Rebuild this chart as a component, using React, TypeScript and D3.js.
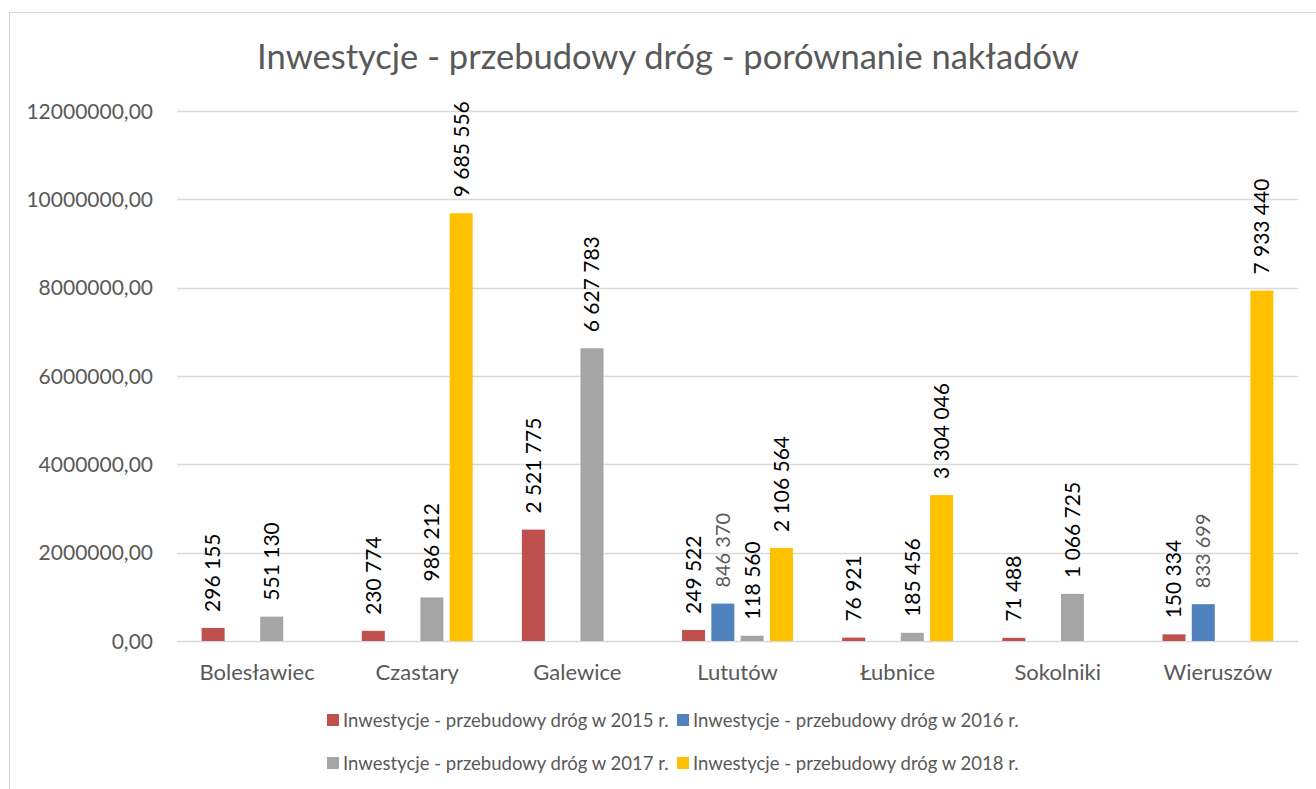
import { useRef, useEffect } from "react";
import * as d3 from "d3";

const categories = ["Bolesławiec", "Czastary", "Galewice", "Lututów", "Łubnice", "Sokolniki", "Wieruszów"];
const seriesNames = [
  "Inwestycje - przebudowy dróg w 2015 r.",
  "Inwestycje - przebudowy dróg w 2016 r.",
  "Inwestycje - przebudowy dróg w 2017 r.",
  "Inwestycje - przebudowy dróg w 2018 r.",
];
const colors = ["#C0504D", "#4F81BD", "#A5A5A5", "#FFC000"];
const v2015 = [296155, 230774, 2521775, 249522, 76921, 71488, 150334];
const v2016 = [null, null, null, 846370, null, null, 833699];
const v2017 = [551130, 986212, 6627783, 118560, 185456, 1066725, null];
const v2018 = [null, 9685556, null, 2106564, 3304046, null, 7933440];
const yTicks = [0, 2000000, 4000000, 6000000, 8000000, 10000000, 12000000];

const FONT = "Lato, 'Open Sans', sans-serif";

export default function App() {
  const svgRef = useRef<SVGSVGElement>(null);

  useEffect(() => {
    const width = 1316;
    const height = 789;
    const svg = d3.select(svgRef.current);
    svg.selectAll("*").remove();

    const series = [v2015, v2016, v2017, v2018];
    const plot = { left: 177, right: 1298, top: 111, bottom: 641 };

    // chart frame
    svg.append("rect")
      .attr("x", 9.5).attr("y", 12.5)
      .attr("width", width + 20).attr("height", height + 20)
      .attr("fill", "#fff").attr("stroke", "#d9d9d9");

    svg.append("text")
      .attr("x", 668).attr("y", 69)
      .attr("text-anchor", "middle")
      .attr("fill", "#595959")
      .attr("font-family", FONT)
      .attr("font-size", "34.5px")
      .text("Inwestycje - przebudowy dróg - porównanie nakładów");

    const x0 = d3.scaleBand<string>().domain(categories).range([plot.left, plot.right]).paddingInner(0).paddingOuter(0);
    const y = d3.scaleLinear().domain([0, 12000000]).range([plot.bottom, plot.top]);

    // 4 bars per group, Excel-like gap between groups
    const barW = 23;
    const step = 29.3;
    const groupOffset = (x0.bandwidth() - (3 * step + barW)) / 2;

    // grid
    svg.append("g").selectAll("line")
      .data(yTicks)
      .join("line")
      .attr("x1", plot.left).attr("x2", plot.right)
      .attr("y1", (d) => Math.round(y(d)) + 0.5).attr("y2", (d) => Math.round(y(d)) + 0.5)
      .attr("stroke", "#d9d9d9").attr("stroke-width", 1.5);

    const yFmt = (d: number) => `${d},00`;
    svg.append("g").selectAll("text")
      .data(yTicks)
      .join("text")
      .attr("x", 153).attr("y", (d) => y(d) + 7.5)
      .attr("text-anchor", "end")
      .attr("fill", "#595959")
      .attr("font-family", FONT)
      .attr("font-size", "21px")
      .text(yFmt);

    svg.append("g").selectAll("text")
      .data(categories)
      .join("text")
      .attr("x", (d) => (x0(d) as number) + x0.bandwidth() / 2)
      .attr("y", 680)
      .attr("text-anchor", "middle")
      .attr("fill", "#595959")
      .attr("font-family", FONT)
      .attr("font-size", "22px")
      .text((d) => d);

    const locale = d3.formatLocale({ decimal: ",", thousands: " ", grouping: [3], currency: ["", ""] });
    const fmt = locale.format(",.0f");

    series.forEach((vals, si) => {
      const pts = vals
        .map((v, i) => ({ v, cat: categories[i] }))
        .filter((p) => p.v != null) as { v: number; cat: string }[];
      const bx = (p: { cat: string }) => (x0(p.cat) as number) + groupOffset + si * step;

      svg.append("g").selectAll("rect")
        .data(pts)
        .join("rect")
        .attr("x", bx)
        .attr("width", barW)
        .attr("y", (p) => y(p.v))
        .attr("height", (p) => y(0) - y(p.v))
        .attr("fill", colors[si]);

      const isBlue = si === 1;
      svg.append("g").selectAll("text")
        .data(pts)
        .join("text")
        .attr("transform", (p) => `translate(${bx(p) + barW / 2},${y(p.v) - 16}) rotate(-90)`)
        .attr("dy", "0.35em")
        .attr("text-anchor", "start")
        .attr("fill", isBlue ? "#595959" : "#000")
        .attr("font-family", FONT)
        .attr("font-size", isBlue ? "20px" : "21px")
        .text((p) => fmt(p.v));
    });

    // legend
    const legendPos = [
      { x: 327, y: 721 },
      { x: 677, y: 721 },
      { x: 327, y: 764 },
      { x: 677, y: 764 },
    ];
    const lg = svg.append("g").selectAll("g")
      .data(seriesNames)
      .join("g")
      .attr("transform", (_, i) => `translate(${legendPos[i].x},${legendPos[i].y})`);
    lg.append("rect")
      .attr("x", 0).attr("y", -7).attr("width", 12).attr("height", 12)
      .attr("fill", (_, i) => colors[i]);
    lg.append("text")
      .attr("x", 16).attr("y", 6)
      .attr("fill", "#595959")
      .attr("font-family", FONT)
      .attr("font-size", "18.5px")
      .text((d) => d);
  }, []);

  return (
    <svg
      ref={svgRef}
      width={1316}
      height={789}
      style={{ position: "absolute", left: 0, top: 0, background: "#fff" }}
    />
  );
}
